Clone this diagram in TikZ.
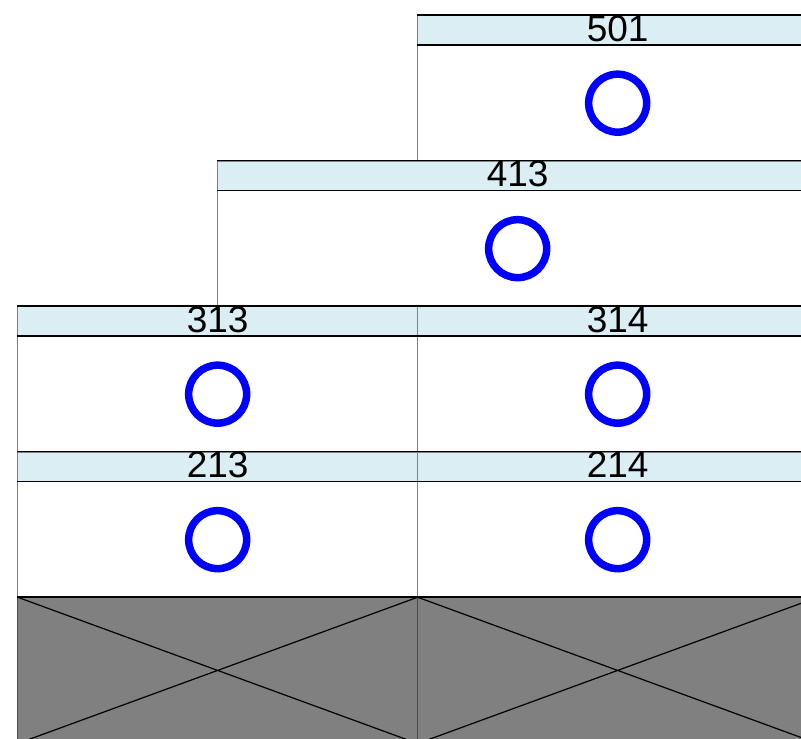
\documentclass[tikz,border=0pt]{standalone}
\usepackage{fontspec}
\setmainfont{Liberation Sans}
\definecolor{hdrfill}{HTML}{DAEEF3}
\definecolor{ringblue}{HTML}{0000FF}
\definecolor{edgegray}{HTML}{808080}
\definecolor{blockgray}{HTML}{808080}
\begin{document}
\begin{tikzpicture}[x=1pt,y=-1pt,
  cellbody/.style={draw=edgegray, line width=1.3pt, minimum height=145.5pt, inner sep=0pt, anchor=north west},
  cellhead/.style={fill=hdrfill, draw=none, minimum height=29.5pt, inner sep=0pt, anchor=north},
  hline/.style={draw=black, line width=1.3pt},
  lbl/.style={font=\fontsize{37}{37}\selectfont, inner sep=0pt, anchor=base},
  ringmark/.style={circle, draw=ringblue, line width=7.5pt, minimum size=58pt, inner sep=0pt},
  blockcell/.style={fill=blockgray, draw=black!70, line width=1.3pt, minimum width=400pt, minimum height=145.5pt, inner sep=0pt, anchor=north west},
  cross/.style={draw=black, line width=1.2pt}
]
\useasboundingbox (0,0) rectangle (801,739);
\clip (0,0) rectangle (801,739);
\fill[white] (0,0) rectangle (801,739);

% header fills first, then body outlines, then black lines
\foreach \name/\x/\y/\w in {501/417/15/400, 413/217/160.5/600, 313/17/306/400, 314/417/306/400, 213/17/451.5/400, 214/417/451.5/400}{
  \node[cellbody, draw=none, minimum width=\w pt] (p\name) at (\x,\y) {};
  \node[cellhead, minimum width=\w pt] (h\name) at (p\name.north) {};
}
\foreach \name/\x/\y/\w in {501/417/15/400, 413/217/160.5/600, 313/17/306/400, 314/417/306/400, 213/17/451.5/400, 214/417/451.5/400}{
  \node[cellbody, minimum width=\w pt] (b\name) at (\x,\y) {};
}
\foreach \name in {501, 413, 313, 314, 213, 214}{
  \draw[hline] (h\name.north west) -- (h\name.north east)
               (h\name.south west) -- (h\name.south east);
  \node[lbl] (t\name) at ([yshift=-26pt]h\name.north) {\name};
  \node[ringmark] (r\name) at ([yshift=-14.75pt]b\name.center) {};
}

% bottom hatched blocks
\node[blockcell] (g1) at (17,597) {};
\node[blockcell] (g2) at (417,597) {};
\foreach \g in {g1, g2}{
  \draw[cross] (\g.north west) -- (\g.south east)
               (\g.north east) -- (\g.south west);
  \draw[hline] (\g.north west) -- (\g.north east);
}
\end{tikzpicture}
\end{document}
